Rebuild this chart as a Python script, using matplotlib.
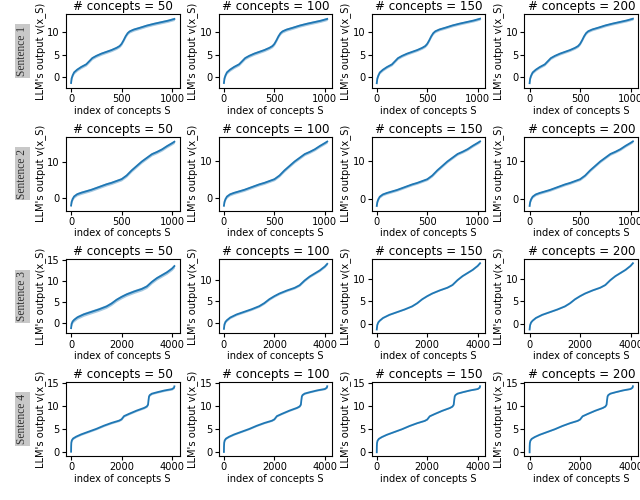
import matplotlib
matplotlib.use("Agg")
import matplotlib.pyplot as plt

# concept counts (columns)
n_concepts = [50, 100, 150, 200]
sentences = ["Sentence 1", "Sentence 2", "Sentence 3", "Sentence 4"]

# sentence 1: 1024 subsets
x_s1 = [0, 5, 15, 30, 60, 100, 150, 180, 210, 250, 300, 350, 400, 450, 480, 500,
        520, 540, 560, 580, 620, 680, 750, 820, 900, 960, 1023]
y_s1 = [-1.4, -0.4, 0.3, 1.0, 1.6, 2.2, 2.8, 3.5, 4.2, 4.7, 5.2, 5.6, 6.0, 6.5, 6.9, 7.4,
        8.2, 9.1, 9.8, 10.2, 10.6, 11.0, 11.5, 11.9, 12.3, 12.6, 13.0]

# sentence 2: 1024 subsets
x_s2 = [0, 5, 15, 30, 60, 100, 150, 200, 250, 300, 350, 400, 450, 500, 550, 600,
        650, 700, 750, 800, 850, 900, 950, 1000, 1023]
y_s2 = [-2.0, -1.0, -0.2, 0.5, 1.1, 1.5, 1.9, 2.3, 2.8, 3.3, 3.8, 4.2, 4.7, 5.2, 6.2, 7.6,
        8.8, 10.0, 11.0, 12.0, 12.6, 13.3, 14.2, 15.0, 15.4]

# sentence 3: 4096 subsets
x_s3 = [0, 20, 60, 120, 250, 500, 800, 1100, 1400, 1600, 1800, 2000, 2200, 2500,
        2800, 3000, 3200, 3400, 3600, 3800, 4000, 4095]
y_s3 = [-1.3, -0.3, 0.3, 0.7, 1.3, 2.0, 2.6, 3.2, 3.9, 4.6, 5.5, 6.2, 6.8, 7.5,
        8.1, 8.7, 9.8, 10.7, 11.4, 12.1, 13.0, 13.6]

# sentence 4: 4096 subsets
x_s4 = [0, 3, 10, 30, 80, 200, 400, 700, 1000, 1300, 1600, 1900, 2000, 2100, 2300,
        2600, 2900, 3000, 3050, 3070, 3090, 3120, 3200, 3400, 3700, 4000, 4080, 4095]
y_s4 = [0.0, 1.2, 2.0, 2.5, 2.9, 3.3, 3.8, 4.4, 5.0, 5.7, 6.3, 6.8, 7.1, 7.8, 8.3,
        9.0, 9.6, 9.9, 10.3, 11.3, 12.1, 12.4, 12.7, 13.0, 13.4, 13.7, 14.0, 14.3]

# half width of the shaded std band, per column
band_s1 = [0.35, 0.35, 0.3, 0.3]
band_s2 = [0.45, 0.4, 0.35, 0.35]
band_s3 = [0.45, 0.25, 0.1, 0.1]
band_s4 = [0.2, 0.15, 0.08, 0.08]

xticks_short = [0, 500, 1000]
xticks_long = [0, 2000, 4000]

rows = [
    (x_s1, y_s1, band_s1, xticks_short),
    (x_s2, y_s2, band_s2, xticks_short),
    (x_s3, y_s3, band_s3, xticks_long),
    (x_s4, y_s4, band_s4, xticks_long),
]
row_yticks = [
    [[0, 5, 10]] * 4,
    [[0, 10]] * 4,
    [[0, 5, 10, 15], [0, 5, 10], [0, 5, 10], [0, 5, 10]],
    [[0, 5, 10, 15]] * 4,
]

plt.rcParams["font.size"] = 7.1

fig, axes = plt.subplots(4, 4, figsize=(6.4, 5), dpi=100)
fig.subplots_adjust(left=0.103, right=0.997, top=0.972, bottom=0.088,
                    wspace=0.345, hspace=0.66)

for r, (xs, ys, bands, xt) in enumerate(rows):
    for c, n in enumerate(n_concepts):
        ax = axes[r, c]
        lo = [v - bands[c] for v in ys]
        hi = [v + bands[c] for v in ys]
        ax.fill_between(xs, lo, hi, color="#1f77b4", alpha=0.4, lw=0)
        ax.plot(xs, ys, color="#1f77b4", lw=1.3)
        ax.set_title(f"# concepts = {n}", pad=3)
        ax.set_xlabel("index of concepts S", labelpad=1)
        ax.set_ylabel("LLM's output v(x_S)", labelpad=1)
        ax.set_xticks(xt)
        ax.set_yticks(row_yticks[r][c])
        if 15 in row_yticks[r][c]:
            lo_y, hi_y = ax.get_ylim()
            ax.set_ylim(lo_y, max(hi_y, 15.2))
        ax.tick_params(length=3, pad=1.5)

    # grey row label on the left
    pos = axes[r, 0].get_position()
    fig.text(0.035, (pos.y0 + pos.y1) / 2, sentences[r], rotation=90,
             ha="center", va="center", family="Liberation Serif", fontsize=8.3,
             color="#333333",
             bbox=dict(boxstyle="square,pad=0.15", fc="#c8c8c8", ec="none"))

fig.savefig("out.png", dpi=100)
